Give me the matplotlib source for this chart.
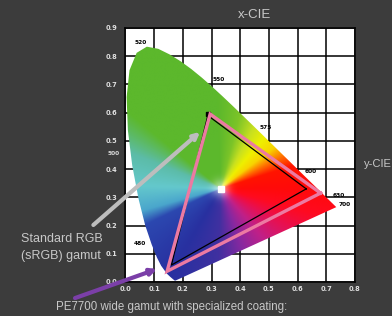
import numpy as np
import matplotlib
matplotlib.use("Agg")
import matplotlib.pyplot as plt
from matplotlib.patches import Polygon

# ---- data ----
wavelengths = [380, 400, 420, 440, 450, 460, 470, 475, 480, 485, 490, 495, 500, 505, 510,
               515, 520, 525, 530, 535, 540, 545, 550, 555, 560, 565, 570, 575, 580, 585,
               590, 595, 600, 610, 620, 630, 640, 650, 700]
locus_x = [0.1741, 0.1733, 0.1714, 0.1644, 0.1566, 0.1440, 0.1241, 0.1096, 0.0913, 0.0687,
           0.0454, 0.0235, 0.0082, 0.0039, 0.0139, 0.0389, 0.0743, 0.1142, 0.1547, 0.1929,
           0.2296, 0.2658, 0.3016, 0.3373, 0.3731, 0.4087, 0.4441, 0.4788, 0.5125, 0.5448,
           0.5752, 0.6029, 0.6270, 0.6658, 0.6915, 0.7079, 0.7190, 0.7260, 0.7347]
locus_y = [0.0050, 0.0048, 0.0051, 0.0109, 0.0177, 0.0297, 0.0578, 0.0868, 0.1327, 0.2007,
           0.2950, 0.4127, 0.5384, 0.6548, 0.7502, 0.8120, 0.8338, 0.8262, 0.8059, 0.7816,
           0.7543, 0.7243, 0.6923, 0.6589, 0.6245, 0.5896, 0.5547, 0.5202, 0.4866, 0.4544,
           0.4242, 0.3965, 0.3725, 0.3340, 0.3083, 0.2920, 0.2809, 0.2740, 0.2653]

white_point = (0.333, 0.331)
srgb_x = [0.63, 0.287, 0.16]
srgb_y = [0.33, 0.590, 0.06]
wide_x = [0.68, 0.295, 0.145]
wide_y = [0.315, 0.595, 0.038]

wl_labels = ["520", "550", "575", "600", "630", "700", "480"]
wl_label_x = [0.054, 0.324, 0.49, 0.647, 0.744, 0.765, 0.05]
wl_label_y = [0.849, 0.716, 0.549, 0.39, 0.308, 0.276, 0.135]

x_ticks = [0.0, 0.1, 0.2, 0.3, 0.4, 0.5, 0.6, 0.7, 0.8]
y_ticks = [0.0, 0.1, 0.2, 0.3, 0.4, 0.5, 0.6, 0.7, 0.8, 0.9]

srgb_arrow_tail = (-0.112, 0.202)
srgb_arrow_head = (0.26, 0.532)
wide_arrow_tail = (-0.176, -0.057)
wide_arrow_head = (0.11, 0.046)

# ---- styling ----
BG = "#3c3c3c"
TXT = "#c8c8c8"

fig = plt.figure(figsize=(3.92, 3.16), dpi=100, facecolor=BG)
ax = fig.add_axes([125.5 / 392, 34 / 316, (355 - 125.5) / 392, (282 - 28) / 316])
ax.set_facecolor("white")
ax.set_xlim(0, 0.8)
ax.set_ylim(0, 0.9)
ax.set_axisbelow(True)
ax.grid(True, color="black", lw=1.1)
for s in ax.spines.values():
    s.set_color("black")
    s.set_linewidth(1.1)
ax.set_xticks(x_ticks)
ax.set_yticks(y_ticks)
ax.set_xticklabels([f"{v:.1f}" for v in x_ticks])
ax.set_yticklabels([f"{v:.1f}" for v in y_ticks])
ax.tick_params(length=0, labelsize=4.8, labelcolor="#e0e0e0")
ax.tick_params(axis="y", pad=6)
ax.tick_params(axis="x", pad=3)
for lab in ax.get_xticklabels() + ax.get_yticklabels():
    lab.set_fontweight("bold")

# ---- colored horseshoe (hue wheel around white point) ----
stops = [
    (0, "#ff0a0a"), (18, "#ff1400"), (28, "#ff7000"), (38, "#f8d400"), (50, "#eef000"),
    (62, "#c8e020"), (76, "#7cc428"), (92, "#5cb82c"), (140, "#5cb82c"), (158, "#5cbca8"),
    (178, "#64c8cc"), (196, "#4aa6cc"), (206, "#2c48b0"), (240, "#2830a0"), (268, "#4030a0"),
    (290, "#8828a0"), (310, "#c02088"), (330, "#e81050"), (345, "#ff0a20"), (360, "#ff0a0a"),
]
angs = np.array([a for a, _ in stops], dtype=float)
cols = np.array([matplotlib.colors.to_rgb(c) for _, c in stops])
gx = np.linspace(0, 0.8, 480)
gy = np.linspace(0, 0.9, 540)
X, Y = np.meshgrid(gx, gy)
dx = X - white_point[0]
dy = Y - white_point[1]
theta = (np.degrees(np.arctan2(dy, dx)) + 360) % 360
rgb = np.stack([np.interp(theta, angs, cols[:, k]) for k in range(3)], axis=-1)
r = np.hypot(dx, dy)
w = 0.55 * np.exp(-(r / 0.03) ** 2)
rgb = rgb * (1 - w[..., None]) + w[..., None]
im = ax.imshow(rgb, origin="lower", extent=[0, 0.8, 0, 0.9], aspect="auto",
               interpolation="bilinear", zorder=1)
poly = Polygon(np.column_stack([locus_x, locus_y]), closed=True, transform=ax.transData,
               facecolor="none", edgecolor="none")
ax.add_patch(poly)
im.set_clip_path(poly)

# white point marker
ax.plot([white_point[0]], [white_point[1]], marker="s", ms=5, color="white", mec="white",
        zorder=3)

# sRGB triangle (black)
ax.plot(srgb_x + [srgb_x[0]], srgb_y + [srgb_y[0]], color="black", lw=0.9, zorder=3)
ax.plot([srgb_x[1]], [srgb_y[1] + 0.004], marker="s", ms=3.5, color="black", zorder=3)
# wide gamut triangle (pink)
ax.plot(wide_x + [wide_x[0]], wide_y + [wide_y[0]], color="#ec7aa2", lw=2.4, zorder=4,
        solid_joinstyle="miter")

# wavelength labels
for t, lx, ly in zip(wl_labels, wl_label_x, wl_label_y):
    ax.text(lx, ly, t, fontsize=4.2, fontweight="bold", color="black", ha="center",
            va="center", zorder=5)
ax.text(-0.042, 0.457, "500", fontsize=4.2, fontweight="bold", color="#d8d8d8",
        ha="center", va="center", clip_on=False)

# arrows
ax.annotate("", xy=srgb_arrow_head, xytext=srgb_arrow_tail,
            arrowprops=dict(arrowstyle="-|>", color="#bdbdbd", lw=3, mutation_scale=9,
                            shrinkA=0, shrinkB=0),
            annotation_clip=False, zorder=6)
ax.annotate("", xy=wide_arrow_head, xytext=wide_arrow_tail,
            arrowprops=dict(arrowstyle="-|>", color="#7b3fa8", lw=3, mutation_scale=9,
                            shrinkA=0, shrinkB=0),
            annotation_clip=False, zorder=6)

# texts
font = "Liberation Sans"
fig.text(254 / 392, 1 - 15 / 316, "x-CIE", fontsize=9.5, color=TXT, family=font,
         ha="center", va="center")
fig.text(364 / 392, 1 - 164 / 316, "y-CIE", fontsize=8, color=TXT, family=font,
         ha="left", va="center")
fig.text(62 / 392, 1 - 239 / 316, "Standard RGB", fontsize=9, color=TXT, family=font,
         ha="center", va="center")
fig.text(61 / 392, 1 - 256 / 316, "(sRGB) gamut", fontsize=9, color=TXT, family=font,
         ha="center", va="center")
fig.text(172 / 392, 1 - 307 / 316, "PE7700 wide gamut with specialized coating:",
         fontsize=8.3, color=TXT, family=font, ha="center", va="center")

fig.savefig("out.png", dpi=100, facecolor=BG)
